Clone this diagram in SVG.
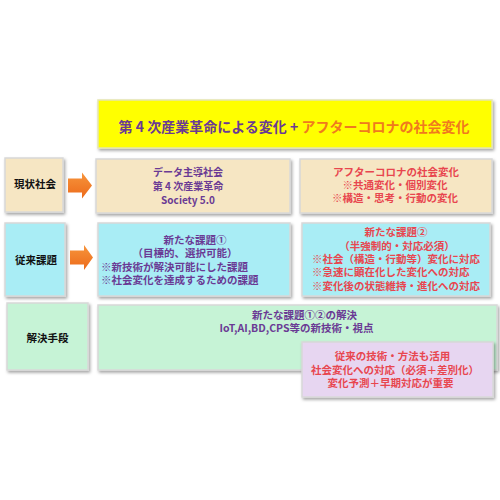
<svg xmlns="http://www.w3.org/2000/svg" width="500" height="500" viewBox="0 0 500 500">
<defs>
<filter id="sh" x="-10%" y="-10%" width="125%" height="130%">
<feDropShadow dx="1.5" dy="2" stdDeviation="1.5" flood-color="#000" flood-opacity="0.35"/>
</filter>
<linearGradient id="og" x1="0" y1="0" x2="0" y2="1">
<stop offset="0" stop-color="#F7953C"/>
<stop offset="1" stop-color="#EC6A1A"/>
</linearGradient>
<style>
text{font-family:"Noto Sans CJK JP","Liberation Sans",sans-serif;font-weight:bold;}
.box{stroke:#D8D8D8;stroke-width:1.5;filter:url(#sh);}
.beige{fill:#F6E6C3;}
.cyan{fill:#A9EDF5;}
.green{fill:#C6F3D6;}
.purple{fill:#E7D6F1;}
.yellow{fill:#FFFF00;stroke:#E5E5B0;}
.lab{font-size:10.5px;fill:#111;text-anchor:middle;}
.pu{fill:#6A3A94;}
.rd{fill:#E8464F;}
.t{font-size:10.5px;}
.c{text-anchor:middle;}
.arr{fill:url(#og);}
</style>
</defs>
<g id="title">
<rect class="box yellow" x="98" y="100" width="394" height="48"/>
<text x="294" y="132" font-size="14" text-anchor="middle"><tspan class="pu">第 4 次産業革命による変化 + </tspan><tspan fill="#F07A1E">アフターコロナの社会変化</tspan></text>
</g>
<g id="label-genjo">
<rect class="box beige" x="5" y="158" width="58" height="54"/>
<text class="lab" x="35" y="188">現状社会</text>
</g>
<g id="label-jurai">
<rect class="box cyan" x="5" y="223" width="60" height="73"/>
<text class="lab" x="36" y="264">従来課題</text>
</g>
<g id="label-kaiketsu">
<rect class="box green" x="7" y="303" width="81" height="67"/>
<text class="lab" x="47.5" y="342">解決手段</text>
</g>
<g id="box-data">
<rect class="box beige" x="96" y="159" width="194" height="54"/>
<text class="pu c" font-size="10" x="188" y="175.5">データ主導社会</text>
<text class="pu c" font-size="10" x="188" y="190">第 4 次産業革命</text>
<text class="pu c" font-size="10" x="188" y="203.5" font-family="Liberation Sans">Society 5.0</text>
</g>
<g id="box-after">
<rect class="box beige" x="300" y="159" width="192" height="54"/>
<text class="rd c t" x="396" y="176">アフターコロナの社会変化</text>
<text class="rd c t" x="395" y="189">※共通変化・個別変化</text>
<text class="rd c t" x="395" y="202">※構造・思考・行動の変化</text>
</g>
<g id="box-kadai1">
<rect class="box cyan" x="98" y="223" width="192" height="73"/>
<text class="pu c t" x="195" y="244">新たな課題①</text>
<text class="pu c t" x="185" y="257">（目標的、選択可能）</text>
<text class="pu t" x="101" y="271">※新技術が解決可能にした課題</text>
<text class="pu t" x="101" y="284">※社会変化を達成するための課題</text>
</g>
<g id="box-kadai2">
<rect class="box cyan" x="302" y="223" width="188" height="73"/>
<text class="rd c t" x="396" y="236">新たな課題②</text>
<text class="rd c t" x="397" y="250">（半強制的・対応必須）</text>
<text class="rd t" x="312" y="263">※社会（構造・行動等）変化に対応</text>
<text class="rd t" x="312" y="276">※急速に顕在化した変化への対応</text>
<text class="rd t" x="312" y="290">※変化後の状態維持・進化への対応</text>
</g>
<g id="box-kaiketsu">
<rect class="box green" x="98" y="305" width="399" height="65"/>
<text class="pu c t" x="304.5" y="319">新たな課題①②の解決</text>
<text class="pu c t" x="296.5" y="332">IoT,AI,BD,CPS等の新技術・視点</text>
</g>
<g id="box-katsuyo">
<rect class="box purple" x="302" y="342" width="191" height="55"/>
<text class="rd c t" x="392.5" y="360">従来の技術・方法も活用</text>
<text class="rd c t" x="395" y="374">社会変化への対応（必須＋差別化）</text>
<text class="rd c t" x="390.5" y="387">変化予測＋早期対応が重要</text>
</g>
<g id="connectors">
<polygon class="arr" points="68,178.5 82,178.5 82,172.5 92,185.5 82,198.5 82,192.5 68,192.5"/>
<polygon class="arr" points="70,250.5 84,250.5 84,245 93,257.5 84,270 84,264.5 70,264.5"/>
</g>
</svg>
